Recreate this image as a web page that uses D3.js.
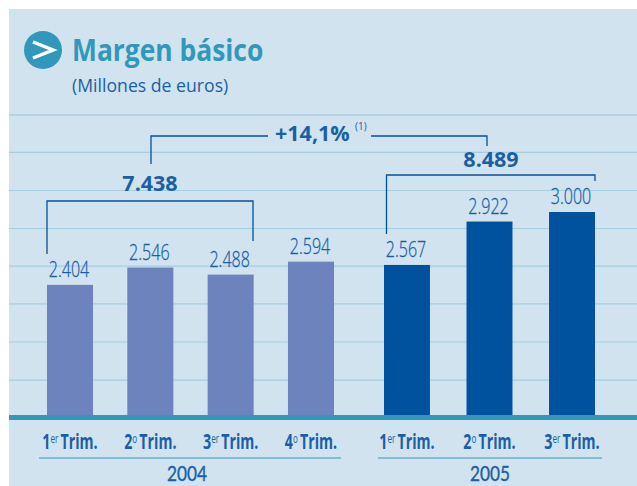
<!DOCTYPE html>
<html><head><meta charset="utf-8">
<script src="https://cdn.jsdelivr.net/npm/d3@7"></script>
<style>html,body{margin:0;padding:0;background:#fff}svg{display:block}text{font-family:"Open Sans",sans-serif}</style>
</head><body><div id="c"></div>
<script>
const quarters2004 = ["1","2","3","4"];
const quarters2005 = ["1","2","3"];
const ordinalSuffix = {"1":"er","2":"o","3":"er","4":"o"};
const values2004 = [2404,2546,2488,2594];
const values2005 = [2567,2922,3000];
const years = ["2004","2005"];
const totals = [7438,8489];
const growth = "+14,1%";
const gridValues = [1626,1937,2248,2558,2865,3176,3487,3793];

const W=637,H=486;
const blue="#00529f", mid="#6c83bd", teal="#3298bb", bg="#d0e3ef", grid="#a6cde2", text="#1a5fa6";
const svg=d3.select("#c").append("svg").attr("width",W).attr("height",H);
svg.append("rect").attr("x",9).attr("y",9).attr("width",W-9).attr("height",H-9).attr("fill",bg);

const y=d3.scaleLinear().domain([1340,3000]).range([415,212]);
const x04=d3.scaleBand().domain(quarters2004).range([47,334]).paddingInner(0.427);
const x05=d3.scaleBand().domain(quarters2005).range([384,595]).paddingInner(0.443);
const fmt=d3.formatLocale({decimal:",",thousands:".",grouping:[3],currency:["","€"]}).format(",d");
const place=(px,py,sx)=>`translate(${px},${py}) scale(${sx},1)`;

svg.append("g").selectAll("line").data(gridValues).join("line")
  .attr("x1",9).attr("x2",W).attr("y1",d=>y(d)).attr("y2",d=>y(d))
  .attr("stroke",(d,i)=>i===gridValues.length-1?"#aacde0":grid)
  .attr("stroke-width",(d,i)=>i===gridValues.length-1?1.6:1.2);

function series(scale,keys,vals,color){
  const g=svg.append("g");
  const rows=keys.map((k,i)=>({k,v:vals[i]}));
  const cx=d=>scale(d.k)+scale.bandwidth()/2;
  g.selectAll("rect").data(rows).join("rect")
    .attr("x",d=>scale(d.k)).attr("width",scale.bandwidth())
    .attr("y",d=>y(d.v)).attr("height",d=>y.range()[0]-y(d.v)).attr("fill",color);
  g.selectAll("text.v").data(rows).join("text").attr("class","v")
    .attr("transform",d=>place(cx(d)-1,y(d.v)-8,0.73))
    .attr("text-anchor","middle").attr("font-size",22).attr("font-weight",300)
    .attr("stroke",text).attr("stroke-width",0.3).attr("fill",text).text(d=>fmt(d.v));
  const t=g.selectAll("text.t").data(rows).join("text").attr("class","t")
    .attr("transform",d=>place(cx(d),449,0.68))
    .attr("text-anchor","middle").attr("font-size",21).attr("font-weight",700).attr("fill",text);
  t.append("tspan").text(d=>d.k);
  t.append("tspan").attr("font-size",12).attr("font-weight",400).attr("dy",-6).text(d=>ordinalSuffix[d.k]);
  t.append("tspan").attr("dy",6).attr("dx",3).text("Trim.");
}
series(x04,quarters2004,values2004,mid);
series(x05,quarters2005,values2005,blue);

svg.append("rect").attr("x",9).attr("y",415).attr("width",W-9).attr("height",5).attr("fill",teal);

[[39,341],[378,602]].forEach((r,i)=>{
  svg.append("line").attr("x1",r[0]).attr("x2",r[1]).attr("y1",458).attr("y2",458).attr("stroke",teal).attr("stroke-width",1);
  svg.append("text").attr("transform",place(i?490:187,481,0.82)).attr("text-anchor","middle")
    .style("font-family","Lato").attr("font-size",21).attr("stroke",text).attr("stroke-width",0.35).attr("fill",text).text(years[i]);
});

const path=p=>svg.append("path").attr("d",p).attr("fill","none").attr("stroke",blue).attr("stroke-width",1.3);
path("M47,254V201H253V241");
path("M386.5,234V175H595V181");
path("M151,164V136H268");
path("M371,136H487V146");

const bold=(x,yy,s,size,anchor)=>svg.append("text").attr("x",x).attr("y",yy).attr("text-anchor",anchor||"middle")
  .attr("font-weight","bold").attr("font-size",size).attr("fill",text).text(s);
bold(150,191,fmt(totals[0]),21.5);
bold(491,167,fmt(totals[1]),21.5);
bold(275,141,growth,21.5,"start");
svg.append("text").attr("x",355).attr("y",130).attr("font-size",10).attr("fill",text).text("(1)");

svg.append("circle").attr("cx",43).attr("cy",50).attr("r",19).attr("fill",teal);
svg.append("path").attr("d","M33,42L53,50L33,58").attr("fill","none").attr("stroke","#fff").attr("stroke-width",3.5);
svg.append("text").attr("transform",place(72,61,0.88)).attr("font-weight","bold").attr("font-size",30).attr("fill",teal).text("Margen básico");
svg.append("text").attr("transform",place(72,92,0.93)).attr("font-size",19).attr("fill",text).text("(Millones de euros)");
</script></body></html>
